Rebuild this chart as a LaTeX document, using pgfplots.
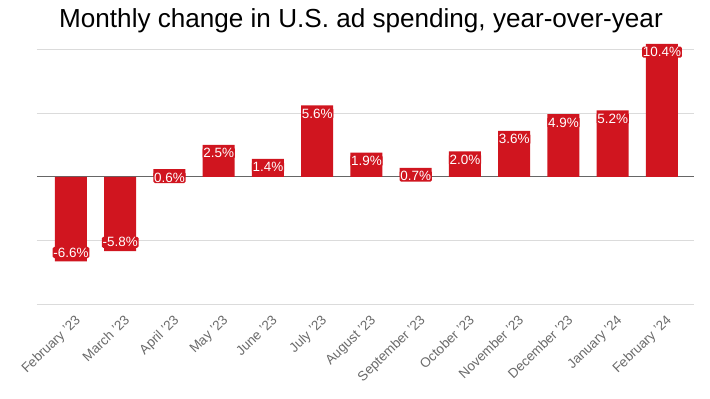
\documentclass[border=0pt]{standalone}
\usepackage{pgfplots}
\pgfplotsset{compat=1.18}
\usepackage{fontspec}
\setmainfont{Liberation Sans}
\definecolor{barred}{HTML}{D0151F}
\definecolor{ticktxt}{HTML}{6A6A6A}
\begin{document}
\begin{tikzpicture}
\useasboundingbox (0,0) rectangle (710bp,399bp);
\node[font=\fontsize{26.2}{30}\selectfont, text=black, anchor=base, inner sep=0pt] at (361bp,371bp) {Monthly change in U.S. ad spending, year-over-year};
\begin{axis}[
  at={(37bp,94.2bp)}, anchor=south west,
  scale only axis, width=657bp, height=263.5bp,
  xmin=-0.69, xmax=12.65, ymin=-10, ymax=10.6,
  axis line style={draw=none},
  ytick={-10,-5,5,10}, yticklabels={},
  ymajorgrids, grid style={draw=black!14, line width=0.8pt},
  major tick length=0pt,
  xtick={0,...,12},
  xticklabels={February '23, March '23, April '23, May '23, June '23, July '23, August '23, September '23, October '23, November '23, December '23, January '24, February '24},
  xticklabel style={rotate=44, anchor=north east, font=\fontsize{13.5}{15}\selectfont, text=ticktxt, xshift=-4bp, yshift=-9bp, inner sep=0pt},
  clip=false,
  /pgf/number format/assume math mode=true,
  ybar, bar width=32bp,
  nodes near coords={\pgfmathprintnumber[fixed,fixed zerofill,precision=1]{\pgfplotspointmeta}\%},
  every node near coord/.append style={fill=barred, text=white, rounded corners=1.5pt, inner sep=0.8pt, font=\fontsize{13.5}{15}\selectfont},
]
\draw[black!60, line width=1.1pt] (axis cs:-0.69,0) -- (axis cs:12.65,0);
\addplot[draw=none, fill=barred, bar shift=0pt, every node near coord/.append style={anchor=north, yshift=-2.5bp}] coordinates {
(2,0.6) (3,2.5) (4,1.4) (5,5.6) (6,1.9) (7,0.7) (8,2.0) (9,3.6) (10,4.9) (11,5.2) (12,10.4)};
\addplot[draw=none, fill=barred, bar shift=0pt, every node near coord/.append style={anchor=south, yshift=3bp}] coordinates {
(0,-6.6) (1,-5.8)};
\end{axis}
\end{tikzpicture}
\end{document}
